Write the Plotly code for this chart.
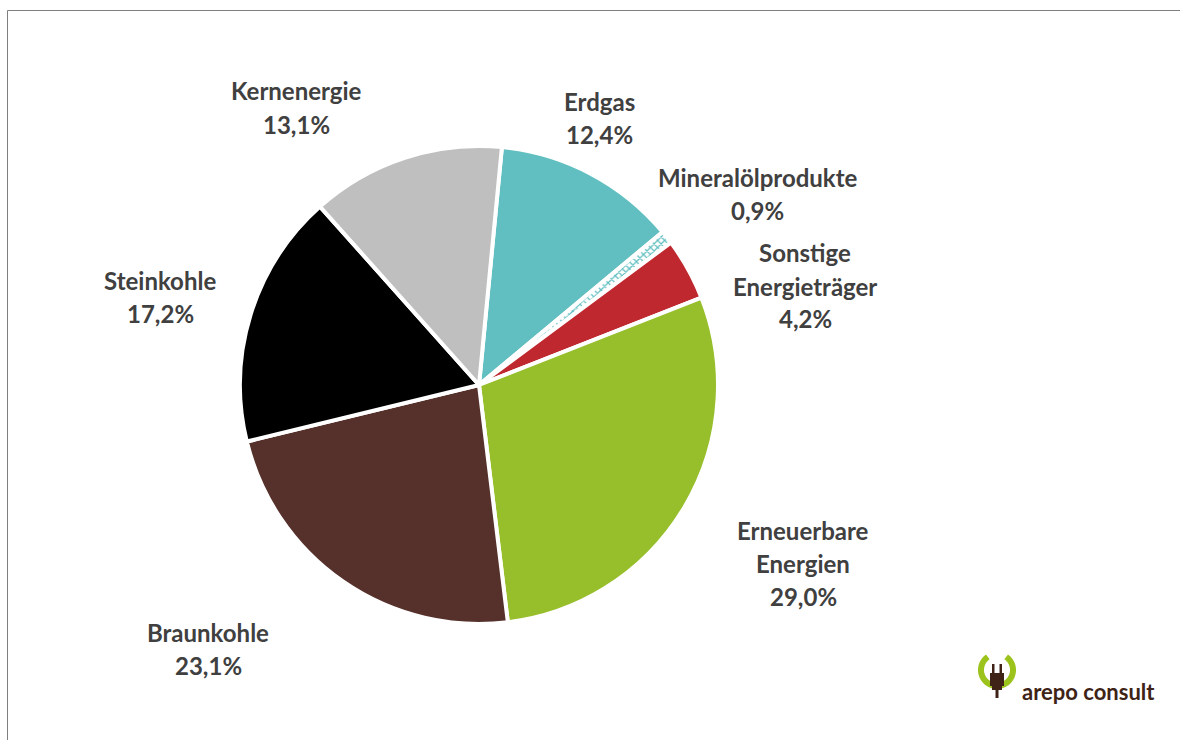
import numpy as np
import plotly.graph_objects as go

W, H = 1180, 740

categories = ["Erdgas", "Mineralölprodukte", "Sonstige Energieträger",
              "Erneuerbare Energien", "Braunkohle", "Steinkohle", "Kernenergie"]
values = [12.4, 0.9, 4.2, 29.0, 23.1, 17.2, 13.1]
label_lines = [["Erdgas"], ["Mineralölprodukte"], ["Sonstige", "Energieträger"],
               ["Erneuerbare", "Energien"], ["Braunkohle"], ["Steinkohle"], ["Kernenergie"]]

colors = ["#62BFC1", "#FFFFFF", "#C0282F", "#97BE2B", "#56302A", "#000000", "#BFBFBF"]
patterns = ["", "x", "", "", "", "", ""]

# label anchor (centre of first line) in pixels
label_pos = [(599, 101), (757, 177), (805, 253), (803, 530), (208, 632), (160, 280), (297, 91)]
LINE_H = 33

def px(x):
    return x / W

def py(y):
    return 1 - y / H

fig = go.Figure()
fig.add_trace(go.Pie(
    labels=categories, values=values, sort=False, direction="clockwise",
    rotation=5.5,
    marker=dict(colors=colors, line=dict(color="white", width=4),
                pattern=dict(shape=patterns, fgcolor="#62BFC1", bgcolor="white",
                             size=5, solidity=0.45)),
    textinfo="none", hoverinfo="label+percent", showlegend=False,
    domain=dict(x=[px(240), px(718)], y=[py(624), py(146)]),
))

annotations = []
font = dict(family="Lato, Carlito, sans-serif", size=24, color="#404040")
for lines, v, (x, y) in zip(label_lines, values, label_pos):
    texts = lines + [f"{v:.1f}%".replace(".", ",")]
    for i, t in enumerate(texts):
        annotations.append(dict(x=px(x), y=py(y + i * LINE_H), xref="paper", yref="paper",
                                text=f"<b>{t}</b>", showarrow=False, font=font,
                                xanchor="center", yanchor="middle"))

# logo text
annotations.append(dict(x=px(1020), y=py(691), xref="paper", yref="paper",
                        text="<b>arepo consult</b>", showarrow=False, xanchor="left", yanchor="middle",
                        font=dict(family="Lato, sans-serif", size=22, color="#3E2316")))

shapes = []
# frame
shapes.append(dict(type="path", xref="paper", yref="paper",
                   path=f"M {px(7.5)} {py(745)} L {px(7.5)} {py(10.5)} L {px(1185)} {py(10.5)}",
                   line=dict(color="#7F7F7F", width=1)))

# logo ring (open at bottom)
cx, cy, r = 997, 670, 16
ang = np.linspace(np.radians(-235), np.radians(55), 60)
pts = [(cx + r * np.cos(a), cy - r * np.sin(a)) for a in ang]
path = "M " + " L ".join(f"{px(x):.5f} {py(y):.5f}" for x, y in pts)
shapes.append(dict(type="path", xref="paper", yref="paper", path=path,
                   line=dict(color="#9BC31C", width=6)))
# plug
brown = "#3E2316"
for x0, y0, x1, y1 in [(992, 664, 994.5, 674), (999.5, 664, 1002, 674),
                       (990, 673, 1004, 686), (992, 686, 1002, 690), (995.5, 689, 998.5, 698)]:
    shapes.append(dict(type="rect", xref="paper", yref="paper",
                       x0=px(x0), x1=px(x1), y0=py(y1), y1=py(y0),
                       fillcolor=brown, line=dict(width=0)))

fig.update_layout(width=W, height=H, margin=dict(l=0, r=0, t=0, b=0),
                  paper_bgcolor="white", plot_bgcolor="white",
                  annotations=annotations, shapes=shapes)

fig.write_html("out.html", config={"displayModeBar": False},
               post_script="document.body.style.margin='0';")
